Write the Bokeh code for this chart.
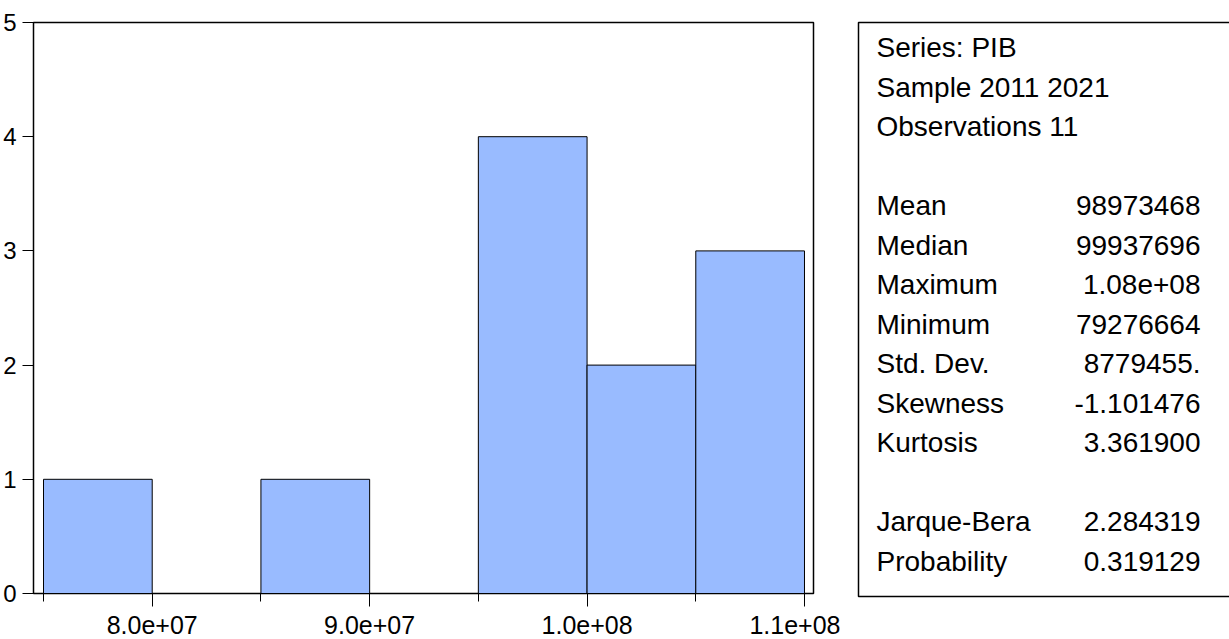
from bokeh.plotting import figure
from bokeh.layouts import row
from bokeh.models import Range1d, FixedTicker, ColumnDataSource
from bokeh.core.properties import value
from bokeh.embed import file_html
from bokeh.resources import INLINE

# Histogram of PIB, 2011-2021 (bin width 5e6)
bin_left = [7.5e7, 8.0e7, 8.5e7, 9.0e7, 9.5e7, 1.0e8, 1.05e8]
bin_right = [8.0e7, 8.5e7, 9.0e7, 9.5e7, 1.0e8, 1.05e8, 1.1e8]
counts = [1, 0, 1, 0, 4, 2, 3]

x_major = [8.0e7, 9.0e7, 1.0e8, 1.1e8]
x_major_labels = ["8.0e+07", "9.0e+07", "1.0e+08", "1.1e+08"]
x_minor = [7.5e7, 8.5e7, 9.5e7, 1.05e8]
y_ticks = [0, 1, 2, 3, 4, 5]

# Descriptive statistics panel
header_lines = ["Series: PIB", "Sample 2011 2021", "Observations 11"]
stat_names = ["Mean", "Median", "Maximum", "Minimum", "Std. Dev.", "Skewness", "Kurtosis"]
stat_values = ["98973468", "99937696", "1.08e+08", "79276664", "8779455.", "-1.101476", "3.361900"]
test_names = ["Jarque-Bera", "Probability"]
test_values = ["2.284319", "0.319129"]

FONT = "Liberation Sans"
BAR_COLOR = "#99BBFF"

# ---- histogram ----
hist_w = 840
p = figure(width=hist_w, height=639, output_backend="svg", toolbar_location=None,
           title=None,
           x_range=Range1d(7.454e7, 1.10414e8), y_range=Range1d(0, 5),
           min_border_left=33, min_border_right=hist_w - 813,
           min_border_top=22, min_border_bottom=46)
p.frame_align = False
p.grid.visible = False
p.outline_line_color = "black"
p.outline_line_width = 1.5
p.background_fill_color = "white"
p.border_fill_color = "white"

src = ColumnDataSource(dict(
    left=[l for l, c in zip(bin_left, counts) if c > 0],
    right=[r for r, c in zip(bin_right, counts) if c > 0],
    top=[c for c in counts if c > 0],
))
p.quad(left="left", right="right", bottom=0, top="top", source=src,
       fill_color=BAR_COLOR, line_color="black", line_width=1)

xa = p.xaxis[0]
xa.ticker = FixedTicker(ticks=x_major, minor_ticks=x_minor)
xa.major_label_overrides = {t: s for t, s in zip(x_major, x_major_labels)}
xa.major_tick_in = 0
xa.major_tick_out = 13
xa.minor_tick_in = 0
xa.minor_tick_out = 8
xa.major_label_standoff = 9
xa.major_label_text_line_height = 0.85
xa.major_label_text_font = FONT
xa.major_label_text_font_size = "25px"
xa.major_label_text_color = "black"
xa.axis_line_color = "black"
xa.major_tick_line_color = "black"
xa.minor_tick_line_color = "black"

ya = p.yaxis[0]
ya.ticker = FixedTicker(ticks=y_ticks, minor_ticks=[])
ya.major_tick_in = 0
ya.major_tick_out = 11
ya.minor_tick_out = 0
ya.major_label_standoff = 6
ya.major_label_text_font = FONT
ya.major_label_text_font_size = "24px"
ya.major_label_text_color = "black"
ya.axis_line_color = "black"
ya.major_tick_line_color = "black"

# ---- statistics box: data units equal canvas pixels (y downward) ----
stats_w = 1229 - hist_w
s = figure(width=stats_w, height=639, output_backend="svg", toolbar_location=None,
           title=None,
           x_range=Range1d(0, stats_w), y_range=Range1d(639, 0),
           x_axis_location=None, y_axis_location=None,
           min_border=0, min_border_left=0, min_border_right=0,
           min_border_top=0, min_border_bottom=0)
s.frame_align = False
s.grid.visible = False
s.outline_line_color = None
s.background_fill_color = "white"
s.border_fill_color = "white"

box_l, box_t, box_b = 18, 22, 596
s.line(x=[stats_w + 10, box_l, box_l, stats_w + 10], y=[box_t, box_t, box_b, box_b],
       line_color="black", line_width=1.5)

first_row = 47
step = 39.5
left_x = 36
right_x = 360

rows_left, rows_right, rows_y = [], [], []
line_idx = 0
for t in header_lines:
    rows_left.append(t); rows_right.append(""); rows_y.append(first_row + line_idx * step)
    line_idx += 1
line_idx += 1
for n, v in zip(stat_names, stat_values):
    rows_left.append(n); rows_right.append(v); rows_y.append(first_row + line_idx * step)
    line_idx += 1
line_idx += 1
for n, v in zip(test_names, test_values):
    rows_left.append(n); rows_right.append(v); rows_y.append(first_row + line_idx * step)
    line_idx += 1

s.text(x=[left_x] * len(rows_left), y=rows_y, text=rows_left,
       text_font=value(FONT), text_font_size="28px", text_color="black",
       text_align="left", text_baseline="alphabetic")
s.text(x=[right_x] * len(rows_right), y=rows_y, text=rows_right,
       text_font=value(FONT), text_font_size="28px", text_color="black",
       text_align="right", text_baseline="alphabetic")

layout = row(p, s, spacing=0)
open("out.html", "w").write(file_html(layout, INLINE))
